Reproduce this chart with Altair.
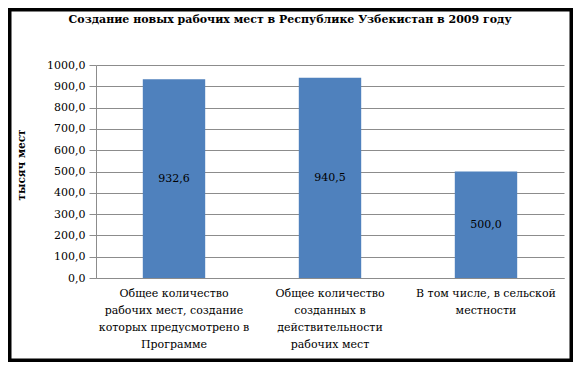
import altair as alt
import pandas as pd

categories = [
    "Общее количество|рабочих мест, создание|которых предусмотрено в|Программе",
    "Общее количество|созданных в|действительности|рабочих мест",
    "В том числе, в сельской|местности",
]
values = [932.6, 940.5, 500.0]
y_ticks = [0, 100, 200, 300, 400, 500, 600, 700, 800, 900, 1000]
title_text = "Создание новых рабочих мест в Республике Узбекистан в 2009 году"
y_title = "тысяч мест"

FONT = "DejaVu Serif"
df = pd.DataFrame({"cat": categories, "v": values})

W, H = 468, 213
PAD = {"left": 88, "top": 57, "right": 9, "bottom": 84}

x_axis = alt.Axis(
    title=None,
    labelExpr="split(datum.label, '|')",
    labelAngle=0,
    labelAlign="center",
    labelBaseline="top",
    labelPadding=9,
    labelLineHeight=17,
    labelLimit=220,
    labelFont=FONT,
    labelFontSize=11,
    labelColor="#000000",
    ticks=False,
    domainColor="#8C8C8C",
    domainWidth=1,
    grid=False,
)
y_axis = alt.Axis(
    title=None,
    values=y_ticks,
    labelOverlap=False,
    labelExpr="replace(format(datum.value, '.1f'), '.', ',')",
    labelFont=FONT,
    labelFontSize=11,
    labelColor="#000000",
    labelPadding=4,
    tickSize=7,
    tickColor="#8C8C8C",
    domainColor="#8C8C8C",
    gridColor="#8C8C8C",
    gridWidth=1,
)
x_scale = alt.Scale(paddingInner=0.6, paddingOuter=0.3)
y_scale = alt.Scale(domain=[0, 1000], nice=False)

base = alt.Chart(df)

bars = base.mark_bar(color="#4F81BD").encode(
    x=alt.X("cat:N", sort=None, scale=x_scale, axis=x_axis),
    y=alt.Y("v:Q", scale=y_scale, axis=y_axis),
)

labels = base.transform_calculate(
    lab="replace(format(datum.v, '.1f'), '.', ',')",
    mid="datum.v / 2",
).mark_text(font=FONT, fontSize=11, color="#000000", baseline="middle").encode(
    x=alt.X("cat:N", sort=None, scale=x_scale, axis=x_axis),
    y=alt.Y("mid:Q", scale=y_scale, axis=y_axis),
    text="lab:N",
)

one = alt.Chart(pd.DataFrame({"t": [title_text], "yt": [y_title]}))

title = one.mark_text(
    font=FONT, fontSize=11, fontWeight="bold", color="#000000", baseline="middle", align="center"
).encode(x=alt.value(194), y=alt.value(-45), text="t:N")

ytitle = one.mark_text(
    font=FONT, fontSize=10.5, fontWeight="bold", color="#000000", baseline="middle", align="center", angle=270
).encode(x=alt.value(-74), y=alt.value(100), text="yt:N")

frame = one.mark_rect(fill="transparent", stroke="#000000", strokeWidth=3.5).encode(
    x=alt.value(-86.25), x2=alt.value(475.25), y=alt.value(-55.25), y2=alt.value(295.25)
)

chart = (
    alt.layer(bars, labels, title, ytitle, frame)
    .properties(width=W, height=H, autosize=alt.AutoSizeParams(type="none"), padding=PAD, background="#FFFFFF")
    .configure_view(strokeWidth=0)
)

chart.save("out.html", embed_options={"renderer": "svg", "actions": False})
